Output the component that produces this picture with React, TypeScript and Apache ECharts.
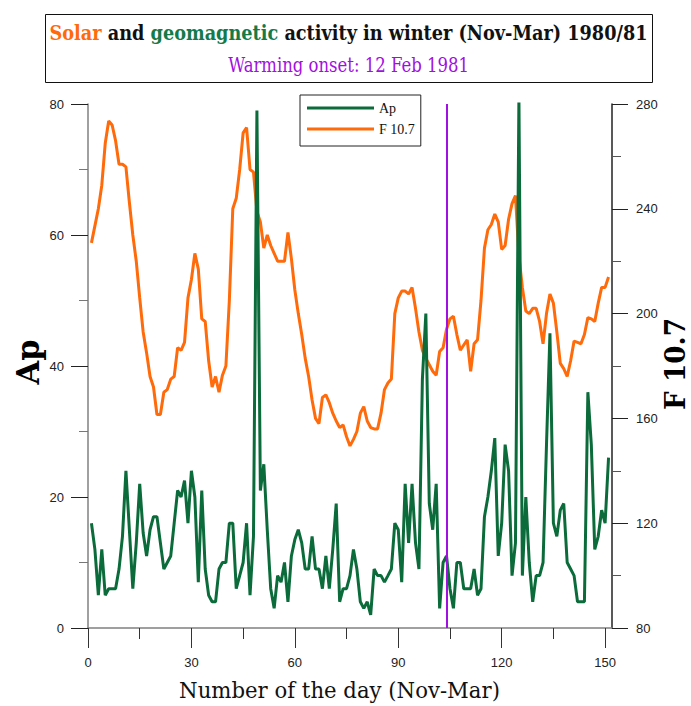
import React, { useEffect, useRef } from 'react';
import * as echarts from 'echarts';

// Daily Ap index, Nov 1980 - Mar 1981 (day 1 .. 151)
const apValues = [
  16, 12, 5, 12, 5, 6, 6, 6, 9, 14,
  24, 15, 6, 13, 22, 14.5, 11, 15, 17, 17,
  13, 9, 10, 11, 16, 21, 20, 22.5, 16, 24,
  20, 7, 21, 9, 5, 4, 4, 9, 10, 10,
  16, 16, 6, 8, 10, 16, 5, 14, 79, 21,
  25, 15, 6, 3, 8, 7, 10, 4, 11, 13.5,
  15, 13, 9, 9, 14, 9, 9, 6, 11, 6,
  12, 19, 4, 6, 6, 8, 12, 9, 4, 3,
  4, 2, 9, 8, 8, 7, 8, 9, 16, 15,
  7, 22, 13, 22, 13, 9, 38, 48, 19, 15,
  22, 3, 10, 11, 6, 3, 10, 10, 6, 6,
  6, 9, 5, 6, 17, 20, 24, 29, 11, 16,
  28, 24, 8, 13, 81, 8, 20, 10, 4, 8,
  8, 10, 28, 45, 16, 14, 18, 19, 10, 9,
  8, 4, 4, 4, 36, 28, 12, 14, 18, 16,
  26,
];

// Daily F10.7 solar radio flux (day 1 .. 151)
const f107Values = [
  227, 233.5, 240, 249, 265, 273.5, 272, 266, 257, 257,
  256, 242.5, 230, 220, 206, 193, 185, 176, 172, 161.5,
  161.5, 170, 171, 175, 176, 187, 186, 189, 206, 213,
  223, 217, 198, 197, 182, 172, 176, 170, 176.5, 180,
  205, 240, 244, 255, 269, 271, 255, 254, 239, 235,
  225, 230, 226, 223, 220, 220, 220, 231, 221, 209,
  200, 192, 183, 176, 167, 160, 158, 168, 169, 166,
  162, 159, 156.5, 157.5, 153, 149.5, 152, 155, 162, 164.5,
  159, 156.5, 156, 156, 162, 171, 173.5, 175, 200, 206,
  208.6, 208.6, 207.5, 210, 202, 193, 186, 183, 180.5, 178,
  176.5, 185.5, 187, 194, 198, 199, 192, 186, 188, 190,
  178, 188.5, 190, 205, 225, 232, 234, 238, 235, 224.5,
  226, 236, 242, 245, 222, 210, 201, 200, 202, 202,
  197, 188.5, 200, 207.5, 204, 193, 181, 179, 176, 182,
  189.5, 189, 188.5, 192, 198.5, 198, 197, 204, 210, 210,
  214,
];

const xMajorTicks = [0, 30, 60, 90, 120, 150];
const xMinorTicks = [15, 45, 75, 105, 135];
const warmingOnsetDay = 104;

const titleLine2 = 'Warming onset: 12 Feb 1981';
const titleLine1Plain = 'Solar and geomagnetic activity in winter (Nov-Mar) 1980/81';
const xAxisTitle = 'Number of the day (Nov-Mar)';
const leftAxisTitle = 'Ap';
const rightAxisTitle = 'F 10.7';

const SERIF = '"DejaVu Serif", "Liberation Serif", serif';
const NARROW = '"Liberation Sans Narrow", "Liberation Sans", Arial, sans-serif';

function measure(text: string, font: string): number {
  const c = document.createElement('canvas').getContext('2d');
  if (!c) return text.length * 10;
  c.font = font;
  return c.measureText(text).width;
}

export default function App() {
  const ref = useRef<HTMLDivElement>(null);

  useEffect(() => {
    if (!ref.current) return;
    const chart = echarts.init(ref.current, null, { renderer: 'svg' });

    const t1Size = 21;
    const t1Scale = 598 / measure(titleLine1Plain, `bold ${t1Size}px ${SERIF}`);
    const t2Size = 20;
    const t2Scale = 241 / measure(titleLine2, `${t2Size}px ${SERIF}`);
    const xtSize = 23;
    const xtScale = 321 / measure(xAxisTitle, `${xtSize}px ${SERIF}`);
    const apSize = 32;
    const apScale = 45 / measure(leftAxisTitle, `bold ${apSize}px ${SERIF}`);
    const fSize = 28;
    const fScale = 92 / measure(rightAxisTitle, `bold ${fSize}px ${SERIF}`);

    const green = '#0b6b3a';
    const orange = '#ff6a0a';
    const purple = '#a010e0';

    chart.setOption({
      animation: false,
      grid: { left: 88, right: 79, top: 104, bottom: 78, containLabel: false },
      legend: {
        data: ['Ap', 'F 10.7'],
        left: 300,
        top: 95,
        orient: 'vertical',
        icon: 'rect',
        itemWidth: 67,
        itemHeight: 3,
        itemGap: 5,
        padding: [5, 6, 9, 7],
        backgroundColor: '#fff',
        borderColor: '#222',
        borderWidth: 1,
        textStyle: { fontFamily: '"Liberation Serif", serif', fontSize: 14, color: '#111', lineHeight: 16 },
      },
      xAxis: [
        {
          type: 'value',
          min: 0,
          max: 152,
          interval: 30,
          position: 'bottom',
          axisLine: { show: true, onZero: false, lineStyle: { color: '#808080', width: 1.5 } },
          axisTick: { show: true, inside: false, length: 20, customValues: xMajorTicks, lineStyle: { color: '#333' } },
          axisLabel: { customValues: xMajorTicks, margin: 28, fontSize: 13, color: '#222', fontFamily: NARROW },
          splitLine: { show: false },
        },
        {
          type: 'value',
          min: 0,
          max: 152,
          interval: 15,
          position: 'bottom',
          offset: 0,
          axisLine: { show: false, onZero: false },
          axisTick: { show: true, inside: false, length: 11, customValues: xMinorTicks, lineStyle: { color: '#333' } },
          axisLabel: { show: false },
          splitLine: { show: false },
        },
      ],
      yAxis: [
        {
          type: 'value',
          min: 0,
          max: 80,
          interval: 20,
          position: 'left',
          axisLine: { show: true, onZero: false, lineStyle: { color: '#808080', width: 1.5 } },
          axisTick: { show: true, inside: false, length: 17, lineStyle: { color: '#222' } },
          minorTick: { show: true, splitNumber: 2, length: 9, lineStyle: { color: '#777' } },
          axisLabel: { inside: false, margin: 24, fontSize: 13, color: '#222', fontFamily: NARROW },
          splitLine: { show: false },
          minorSplitLine: { show: false },
        },
        {
          type: 'value',
          min: 80,
          max: 280,
          interval: 40,
          position: 'right',
          axisLine: { show: true, onZero: false, lineStyle: { color: '#222', width: 1.5 } },
          axisTick: { show: true, inside: false, length: 16, lineStyle: { color: '#222' } },
          minorTick: { show: true, splitNumber: 2, length: 9, lineStyle: { color: '#555' } },
          axisLabel: { inside: false, margin: 24, fontSize: 13, color: '#222', fontFamily: NARROW },
          splitLine: { show: false },
          minorSplitLine: { show: false },
        },
      ],
      series: [
        {
          name: 'F 10.7',
          type: 'line',
          xAxisIndex: 0,
          yAxisIndex: 1,
          data: f107Values.map((v, i) => [i + 1, v]),
          showSymbol: false,
          symbol: 'none',
          color: orange,
          lineStyle: { color: orange, width: 3 },
          z: 2,
        },
        {
          name: 'Ap',
          type: 'line',
          xAxisIndex: 0,
          yAxisIndex: 0,
          data: apValues.map((v, i) => [i + 1, v]),
          showSymbol: false,
          symbol: 'none',
          color: green,
          lineStyle: { color: green, width: 3 },
          z: 3,
          markLine: {
            silent: true,
            symbol: ['none', 'none'],
            label: { show: false },
            lineStyle: { color: purple, width: 2, type: 'solid' },
            data: [{ xAxis: warmingOnsetDay }],
          },
        },
      ],
      graphic: [
        {
          type: 'rect',
          shape: { x: 45.5, y: 14.5, width: 607, height: 68 },
          style: { fill: '#fff', stroke: '#111', lineWidth: 1 },
          z: 0,
        },
        {
          type: 'text',
          x: 348.5,
          y: 33,
          scaleX: t1Scale,
          style: {
            text: '{o|Solar} and {g|geomagnetic} activity in winter (Nov-Mar) 1980/81',
            fill: '#111',
            fontFamily: SERIF,
            fontWeight: 'bold',
            fontSize: t1Size,
            align: 'center',
            verticalAlign: 'middle',
            rich: {
              o: { fill: orange, fontFamily: SERIF, fontWeight: 'bold', fontSize: t1Size },
              g: { fill: '#137a4a', fontFamily: SERIF, fontWeight: 'bold', fontSize: t1Size },
            },
          },
          z: 1,
        },
        {
          type: 'text',
          x: 348.5,
          y: 65,
          scaleX: t2Scale,
          style: {
            text: titleLine2,
            fill: purple,
            fontFamily: SERIF,
            fontSize: t2Size,
            align: 'center',
            verticalAlign: 'middle',
          },
          z: 1,
        },
        {
          type: 'text',
          x: 339.5,
          y: 690,
          scaleX: xtScale,
          style: {
            text: xAxisTitle,
            fill: '#111',
            fontFamily: SERIF,
            fontSize: xtSize,
            align: 'center',
            verticalAlign: 'middle',
          },
        },
        {
          type: 'text',
          x: 28,
          y: 362,
          rotation: Math.PI / 2,
          scaleX: apScale,
          style: {
            text: leftAxisTitle,
            fill: '#000',
            fontFamily: SERIF,
            fontWeight: 'bold',
            fontSize: apSize,
            align: 'center',
            verticalAlign: 'middle',
          },
        },
        {
          type: 'text',
          x: 675,
          y: 364,
          rotation: Math.PI / 2,
          scaleX: fScale,
          style: {
            text: rightAxisTitle,
            fill: '#000',
            fontFamily: SERIF,
            fontWeight: 'bold',
            fontSize: fSize,
            align: 'center',
            verticalAlign: 'middle',
          },
        },
      ],
    });

    return () => {
      chart.dispose();
    };
  }, []);

  return (
    <div
      ref={ref}
      style={{ position: 'absolute', left: 0, top: 0, width: 691, height: 706, background: '#fff' }}
    />
  );
}
